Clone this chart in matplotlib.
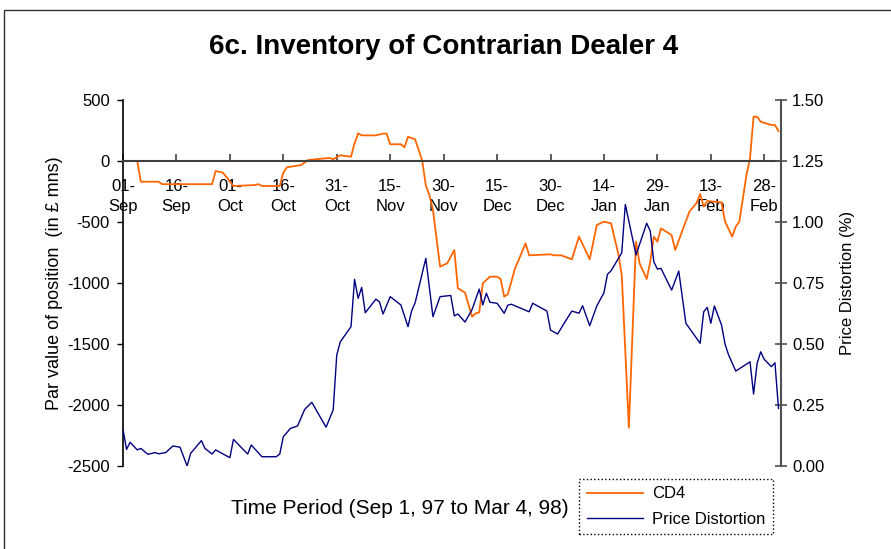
import matplotlib.pyplot as plt
import matplotlib.patches as patches
import numpy as np

plt.rcParams['font.family'] = ['Liberation Sans', 'DejaVu Sans']

# day offsets from 01-Sep-97
cd4_day = [0, 4, 5, 10, 11, 25, 26, 28, 29, 31, 37, 38, 39, 44, 45, 46, 50, 52, 54, 58,
           59, 61, 64, 65, 66, 67, 71, 73, 74, 75, 78, 79, 80, 82, 84, 85, 86, 87, 89, 91,
           93, 94, 96, 98, 99, 100, 101, 103, 105, 106, 107, 108, 110, 113, 114, 120, 121, 123, 126, 128,
           131, 133, 135, 137, 139, 140, 142, 144, 145, 147, 148, 149, 150, 151, 154, 155, 159, 161, 162, 163,
           164, 168, 169, 171, 172, 173, 175, 176, 177, 178, 179, 182, 183, 184]
cd4_val = [0, 0, -170, -170, -190, -190, -82, -95, -130, -205, -197, -190, -205, -205, -95, -52, -33, 8, 14, 25,
           14, 47, 35, 145, 227, 210, 210, 224, 224, 137, 137, 112, 199, 178, 0, -200, -280, -400, -866, -839,
           -730, -1043, -1079, -1276, -1249, -1241, -1003, -948, -948, -967, -1112, -1093, -885, -675, -773, -765, -773, -773, -806, -620,
           -806, -525, -497, -511, -757, -934, -2186, -661, -839, -967, -825, -620, -661, -552, -607, -730, -415, -345, -270, -374,
           -328, -339, -497, -620, -538, -497, -115, 22, 363, 363, 322, 295, 295, 246]

pd_day = [0, 1, 2, 4, 5, 7, 9, 10, 12, 14, 16, 18, 19, 22, 23, 25, 26, 30, 31, 35,
          36, 39, 43, 44, 45, 47, 49, 51, 53, 57, 59, 60, 61, 64, 65, 66, 67, 68, 71, 72,
          73, 75, 78, 80, 81, 82, 85, 87, 89, 92, 93, 94, 96, 98, 100, 101, 102, 103, 105, 107,
          108, 109, 114, 115, 119, 120, 122, 124, 126, 128, 129, 131, 133, 135, 136, 137, 140, 141, 144, 147,
          148, 149, 150, 151, 154, 156, 158, 162, 163, 164, 165, 166, 168, 169, 170, 172, 176, 177, 178, 179,
          180, 182, 183, 184]
pd_val = [0.150, 0.068, 0.097, 0.066, 0.072, 0.048, 0.055, 0.050, 0.055, 0.082, 0.077, 0.000, 0.052, 0.104, 0.072, 0.049, 0.066, 0.034, 0.109, 0.049,
          0.086, 0.038, 0.038, 0.049, 0.120, 0.154, 0.164, 0.232, 0.261, 0.159, 0.230, 0.455, 0.509, 0.571, 0.765, 0.687, 0.732, 0.628, 0.684, 0.672,
          0.623, 0.694, 0.660, 0.571, 0.635, 0.669, 0.851, 0.612, 0.694, 0.699, 0.615, 0.623, 0.590, 0.642, 0.725, 0.660, 0.708, 0.671, 0.667, 0.626,
          0.659, 0.663, 0.632, 0.667, 0.635, 0.557, 0.541, 0.589, 0.635, 0.626, 0.657, 0.575, 0.656, 0.710, 0.786, 0.800, 0.874, 1.072, 0.865, 0.995,
          0.963, 0.837, 0.807, 0.810, 0.721, 0.799, 0.585, 0.503, 0.632, 0.650, 0.585, 0.656, 0.578, 0.499, 0.455, 0.389, 0.427, 0.295, 0.421, 0.468,
          0.437, 0.407, 0.423, 0.236]

tick_days = [0, 15, 30, 45, 60, 75, 90, 105, 120, 135, 150, 165, 180]
tick_labels = ['01-\nSep', '16-\nSep', '01-\nOct', '16-\nOct', '31-\nOct', '15-\nNov', '30-\nNov',
               '15-\nDec', '30-\nDec', '14-\nJan', '29-\nJan', '13-\nFeb', '28-\nFeb']
left_ticks = [500, 0, -500, -1000, -1500, -2000, -2500]
right_ticks = [0.0, 0.25, 0.5, 0.75, 1.0, 1.25, 1.5]

W, H = 891, 549
fig = plt.figure(figsize=(W / 100, H / 100), dpi=100)
ax = fig.add_axes([123 / W, 1 - 466 / H, 658 / W, 366 / H])

l1, = ax.plot(cd4_day, cd4_val, color='#FF6600', lw=1.3, label='CD4')
ax.set_xlim(0, 184.7)
ax.set_ylim(-2500, 500)
ax.spines['top'].set_visible(False)
ax.spines['right'].set_visible(False)
ax.spines['bottom'].set_position(('data', 0))
ax.spines['bottom'].set_color('#404040')
ax.spines['bottom'].set_linewidth(1.5)
ax.spines['left'].set_linewidth(1.2)
ax.set_xticks(tick_days)
ax.set_xticklabels(tick_labels, fontsize=12, linespacing=1.4)
ax.tick_params(axis='x', direction='in', length=5, width=1.2, color='#404040', pad=13)
ax.set_yticks(left_ticks)
ax.set_yticklabels([str(v) for v in left_ticks], fontsize=12)
ax.tick_params(axis='y', direction='out', length=4.5, width=1, pad=5)
ax.set_ylabel('Par value of position  (in \u00a3 mns)', fontsize=13)
ax.yaxis.set_label_coords(-0.091, 0.5)

ax2 = ax.twinx()
l2, = ax2.plot(pd_day, pd_val, color='#000080', lw=1.0, label='Price Distortion')
ax2.set_ylim(0, 1.5)
for s in ['top', 'left', 'bottom']:
    ax2.spines[s].set_visible(False)
ax2.spines['right'].set_color('#505050')
ax2.spines['right'].set_linewidth(1.5)
ax2.set_yticks(right_ticks)
ax2.set_yticklabels(['%.2f' % v for v in right_ticks], fontsize=12)
ax2.tick_params(axis='y', direction='inout', length=8, width=1.2, color='#505050', pad=4)
ax2.set_ylabel('Price Distortion (%)', fontsize=12)
ax2.yaxis.set_label_coords(1.09, 0.5)

fig.text(0.498, 1 - 47 / H, '6c. Inventory of Contrarian Dealer 4', ha='center', va='center',
         fontsize=20, fontweight='bold')
fig.text(400 / W, 1 - 509 / H, 'Time Period (Sep 1, 97 to Mar 4, 98)', ha='center', va='center',
         fontsize=15)

leg = fig.legend([l1, l2], ['CD4', 'Price Distortion'], loc='center',
                 bbox_to_anchor=(676 / W, 1 - 506.5 / H), fontsize=12, handlelength=3.35,
                 handletextpad=0.55, fancybox=False, framealpha=1, borderpad=0.45,
                 labelspacing=0.6, borderaxespad=0)
leg.get_frame().set_edgecolor('black')
leg.get_frame().set_linestyle(':')
leg.get_frame().set_linewidth(1)

fig.patches.append(patches.Rectangle((4 / W, -0.1), 1.2, 1.1 - 10 / H, transform=fig.transFigure,
                                     fill=False, lw=1, ec='#303030'))

fig.savefig('out.png', dpi=100)
